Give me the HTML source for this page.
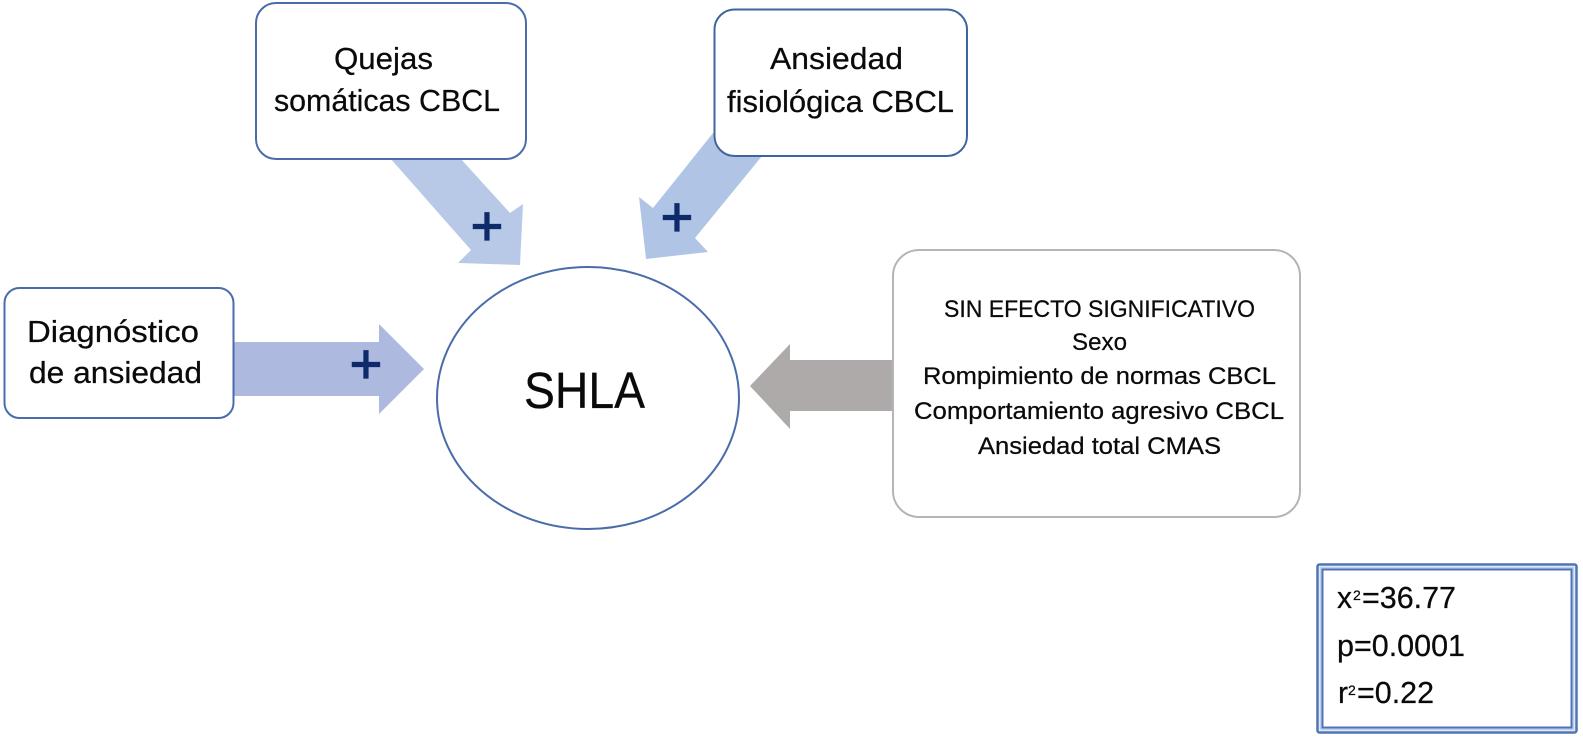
<!DOCTYPE html>
<html lang="es">
<head>
<meta charset="utf-8">
<title>SHLA</title>
<style>
html,body{margin:0;padding:0;background:#fff;width:1583px;height:739px;overflow:hidden}
svg{display:block}
text{font-family:"Liberation Sans",sans-serif;fill:#0a0a0a;stroke:#0a0a0a;stroke-width:.25px}
.p{fill:#0f2a6b;stroke:#0f2a6b;stroke-width:1.2px;font-size:56px;text-anchor:middle}
</style>
</head>
<body>
<svg width="1583" height="739" viewBox="0 0 1583 739" xmlns="http://www.w3.org/2000/svg">
  <rect width="1583" height="739" fill="#fff"/>

  <!-- arrows -->
  <polygon points="390,158 460,158 510,213 523,204 520,265 458,263 471,250" fill="#b7c9e7"/>
  <polygon points="713,133 653,208 639,197 646,259 708,252 695,238 762,156" fill="#b0c5e6"/>
  <polygon points="232,342 379,342 379,324 424,369 379,414 379,396 232,396" fill="#adb9de"/>
  <polygon points="893,360 790,360 790,344 750,386 790,429 790,411 893,411" fill="#aeaaaa"/>

  <!-- boxes -->
  <rect x="256" y="3" width="270" height="156" rx="20" fill="#fff" stroke="#4a6cab" stroke-width="2"/>
  <rect x="714.5" y="9.5" width="252.5" height="146.5" rx="20" fill="#fff" stroke="#3f659f" stroke-width="2"/>
  <rect x="4.5" y="288" width="229" height="130" rx="15" fill="#fff" stroke="#4a6cab" stroke-width="2"/>
  <rect x="893" y="250" width="407" height="267" rx="26" fill="#fff" stroke="#b5b5b5" stroke-width="2"/>
  <ellipse cx="588" cy="398" rx="151" ry="131" fill="#fff" stroke="#4a6cab" stroke-width="2"/>

  <!-- stats box -->
  <rect x="1317.5" y="564.5" width="259" height="168" rx="2" fill="#fff" stroke="#4f74b3" stroke-width="2.5"/>
  <rect x="1320.5" y="567.5" width="253" height="162" fill="#fff" stroke="#bcd0ee" stroke-width="2"/>
  <rect x="1322.5" y="569.5" width="249" height="158" fill="#fff" stroke="#4f74b3" stroke-width="2"/>

  <!-- plus signs -->
  <text class="p" x="487" y="245">+</text>
  <text class="p" x="677" y="236">+</text>
  <text class="p" x="366" y="383">+</text>

  <!-- labels -->
  <g font-size="31">
    <text x="334" y="69" textLength="99" lengthAdjust="spacingAndGlyphs">Quejas</text>
    <text x="274" y="111" textLength="226" lengthAdjust="spacingAndGlyphs">somáticas CBCL</text>
    <text x="770" y="69" textLength="133" lengthAdjust="spacingAndGlyphs">Ansiedad</text>
    <text x="727" y="112" textLength="227" lengthAdjust="spacingAndGlyphs">fisiológica CBCL</text>
    <text x="27" y="342" textLength="172" lengthAdjust="spacingAndGlyphs">Diagnóstico</text>
    <text x="29" y="383" textLength="173" lengthAdjust="spacingAndGlyphs">de ansiedad</text>
  </g>

  <text x="524" y="408" font-size="51" textLength="121" lengthAdjust="spacingAndGlyphs">SHLA</text>

  <g font-size="24">
    <text x="944" y="317" textLength="311" lengthAdjust="spacingAndGlyphs">SIN EFECTO SIGNIFICATIVO</text>
    <text x="1072" y="350" textLength="55" lengthAdjust="spacingAndGlyphs">Sexo</text>
    <text x="923" y="384" textLength="353" lengthAdjust="spacingAndGlyphs">Rompimiento de normas CBCL</text>
    <text x="914" y="419" textLength="370" lengthAdjust="spacingAndGlyphs">Comportamiento agresivo CBCL</text>
    <text x="978" y="454" textLength="243" lengthAdjust="spacingAndGlyphs">Ansiedad total CMAS</text>
  </g>

  <g font-size="31">
    <text x="1337" y="608" textLength="15" lengthAdjust="spacingAndGlyphs">x</text>
    <text x="1353" y="600" font-size="14">2</text>
    <text x="1362" y="608" textLength="94" lengthAdjust="spacingAndGlyphs">=36.77</text>
    <text x="1337" y="656" textLength="128" lengthAdjust="spacingAndGlyphs">p=0.0001</text>
    <text x="1338" y="703" textLength="10" lengthAdjust="spacingAndGlyphs">r</text>
    <text x="1348" y="695" font-size="14">2</text>
    <text x="1357" y="703" textLength="77" lengthAdjust="spacingAndGlyphs">=0.22</text>
  </g>
</svg>
</body>
</html>
